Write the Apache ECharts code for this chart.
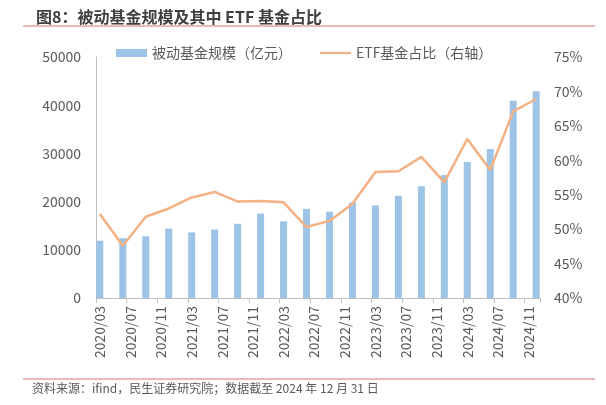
<!DOCTYPE html>
<html>
<head>
<meta charset="utf-8">
<script src="https://cdn.jsdelivr.net/npm/echarts@6/dist/echarts.min.js"></script>
<style>html,body{margin:0;padding:0;background:#fff}#c{width:606px;height:405px}</style>
</head>
<body>
<div id="c"></div>
<script>
// Quarterly data points
const quarters = ['2020/03','2020/06','2020/09','2020/12','2021/03','2021/06','2021/09','2021/12',
  '2022/03','2022/06','2022/09','2022/12','2023/03','2023/06','2023/09','2023/12',
  '2024/03','2024/06','2024/09','2024/12'];
const passiveScale = [11900,12400,12800,14400,13600,14200,15400,17500,15900,18500,17900,19800,
  19200,21200,23200,25500,28200,30900,40900,42900];
const etfShare = [52.2,47.6,51.8,53.0,54.6,55.4,54.0,54.1,53.9,50.3,51.2,53.7,
  58.3,58.4,60.5,56.8,63.1,58.6,67.1,68.9];
const leftTicks = [0,10000,20000,30000,40000,50000];
const rightTicks = [40,45,50,55,60,65,70,75];

// Monthly date axis (2020/03 .. 2024/12), like an Excel date axis
const months = [];
for (let y = 2020; y <= 2024; y++) {
  for (let m = 1; m <= 12; m++) {
    if (y === 2020 && m < 3) continue;
    months.push(y + '/' + (m < 10 ? '0' + m : m));
  }
}
const barData = months.map(mo => { const i = quarters.indexOf(mo); return i >= 0 ? passiveScale[i] : null; });
const lineData = months.map(mo => { const i = quarters.indexOf(mo); return i >= 0 ? etfShare[i] : null; });

const FONT = '"Noto Sans CJK SC", "Noto Sans", sans-serif';
const chart = echarts.init(document.getElementById('c'), null, {renderer: 'canvas'});
chart.setOption({
  animation: false,
  textStyle: {fontFamily: FONT},
  title: {
    text: '图8：被动基金规模及其中 ETF 基金占比',
    left: 31, top: 4,
    textStyle: {fontFamily: FONT, fontSize: 16, fontWeight: 'bold', color: '#404040'}
  },
  graphic: [
    {type: 'line', shape: {x1: 23, y1: 26, x2: 595, y2: 26}, style: {stroke: '#E5A3A0', lineWidth: 1.5}},
    {type: 'line', shape: {x1: 23, y1: 379, x2: 595, y2: 379}, style: {stroke: '#E5A3A0', lineWidth: 1.5}},
    {type: 'text', left: 32, top: 382, style: {text: '资料来源：ifind，民生证券研究院；数据截至 2024 年 12 月 31 日', font: '12px ' + FONT, fill: '#595959'}}
  ],
  legend: {
    top: 46, left: 116, itemGap: 28, padding: 0,
    itemWidth: 31, itemHeight: 8,
    textStyle: {fontFamily: FONT, fontSize: 14, color: '#595959'},
    data: [
      {name: '被动基金规模（亿元）', icon: 'rect'},
      {name: 'ETF基金占比（右轴）', icon: 'path://M0,0 L0,0 M0,2.9 L31,2.9 L31,5.1 L0,5.1 Z M31,8 L31,8'}
    ]
  },
  grid: {left: 96, right: 66, top: 57, bottom: 107},
  xAxis: {
    type: 'category', data: months, boundaryGap: true,
    axisLine: {show: true, lineStyle: {color: '#BFBFBF', width: 1}},
    axisTick: {show: true, interval: 3, length: 5, lineStyle: {color: '#BFBFBF'}},
    axisLabel: {interval: 3, rotate: 90, fontSize: 14, color: '#595959', fontFamily: FONT, margin: 8}
  },
  yAxis: [
    {
      type: 'value', min: leftTicks[0], max: leftTicks[leftTicks.length-1], interval: 10000,
      axisLine: {show: true, lineStyle: {color: '#BFBFBF'}},
      axisTick: {show: false}, splitLine: {show: false},
      axisLabel: {fontSize: 14, color: '#595959', fontFamily: FONT, margin: 15, formatter: v => String(v)}
    },
    {
      type: 'value', min: rightTicks[0], max: rightTicks[rightTicks.length-1], interval: 5,
      axisLine: {show: false}, axisTick: {show: false}, splitLine: {show: false},
      axisLabel: {fontSize: 14, color: '#595959', fontFamily: FONT, margin: 14, formatter: v => v + '%'}
    }
  ],
  series: [
    {
      name: '被动基金规模（亿元）', type: 'bar', data: barData, barWidth: 7,
      itemStyle: {color: '#9DC3E6'}
    },
    {
      name: 'ETF基金占比（右轴）', type: 'line', yAxisIndex: 1, data: lineData,
      connectNulls: true, showSymbol: false, symbol: 'none',
      lineStyle: {color: '#F4B183', width: 2.5}, itemStyle: {color: '#F4B183'}
    }
  ]
});
</script>
</body>
</html>
